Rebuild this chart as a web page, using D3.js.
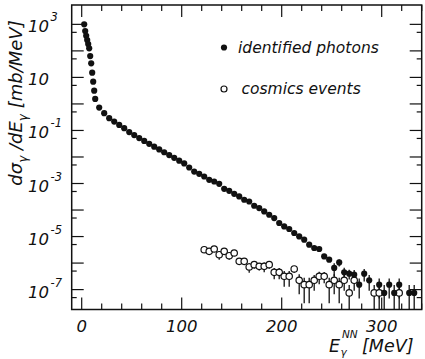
<!DOCTYPE html>
<html><head><meta charset="utf-8">
<script src="https://cdn.jsdelivr.net/npm/d3@7"></script>
<style>
html,body{margin:0;padding:0;background:#fff;}
text{font-family:"DejaVu Sans",sans-serif;font-style:oblique;fill:#111;}
</style></head>
<body><svg id="c" width="425" height="359"></svg>
<script>
// ---- data ----
const photonE = [2.5,3.5,4.5,5.5,6.5,7.5,8.5,9.5,10.5,11.5,12.5,13.5,
  17.5,22.5,27.5,32.5,37.5,42.5,
  47.5,52.5,57.5,62.5,67.5,72.5,77.5,82.5,87.5,92.5,97.5,102.5,107.5,
  112.5,117.5,122.5,127.5,132.5,137.5,142.5,147.5,152.5,157.5,162.5,167.5,172.5,177.5,
  182.5,187.5,192.5,197.5,202.5,207.5,212.5,217.5,222.5,227.5,232.5,237.5,242.5,247.5,
  252.5,257.5,262.5,267.5,272.5,277.5,282.5,287.5,
  297.5,302.5,307.5,312.5,317.5,327.5,332.5];
const photonValue = [1000,560,372,256,182,125,64,34,15.1,6.9,3.17,1.55,
  0.726,0.447,0.290,0.216,0.162,0.122,
  0.0869,0.0670,0.0516,0.0402,0.0313,0.0245,0.0192,0.0151,0.0118,0.00929,0.00729,0.00571,0.00401,
  2.83e-3,2.32e-3,1.84e-3,1.38e-3,1.19e-3,9.75e-4,6.32e-4,5.32e-4,4.10e-4,3.25e-4,2.44e-4,2.10e-4,1.45e-4,1.19e-4,
  8.85e-5,6.65e-5,4.99e-5,3.24e-5,2.41e-5,1.93e-5,1.36e-5,1.01e-5,7.62e-6,4.94e-6,3.71e-6,3.40e-6,1.79e-6,1.35e-6,
  6.56e-7,1.06e-6,4.48e-7,4.00e-7,3.66e-7,1.54e-7,4.00e-7,2.24e-7,
  1.54e-7,7.52e-8,1.54e-7,7.52e-8,1.54e-7,7.52e-8,7.52e-8];
// relative statistical error of each photon point
const photonErr = [0,0,0,0,0,0,0,0,0,0,0,0,
  0,0,0,0,0,0,
  0,0,0,0,0,0,0,0,0,0,0,0,0,
  0,0,0,0,0,0,0,0,0,0,0,0,0,0,
  0,0,0,0,0,0,0,0,0,0,0,0,0,0.15,
  0.5,0.3,0.5,0.4,0.5,0.7,0.5,0.6,
  0.7,1,0.7,1,0.7,1,1];
const cosmicE = [122.5,127.5,132.5,137.5,142.5,147.5,152.5,157.5,162.5,167.5,172.5,177.5,182.5,187.5,
  192.5,197.5,202.5,207.5,212.5,217.5,222.5,227.5,232.5,237.5,242.5,247.5,252.5,257.5,262.5,267.5,272.5,
  292.5,297.5,317.5];
const cosmicValue = [3.20e-6,2.77e-6,3.40e-6,2.07e-6,2.77e-6,1.90e-6,2.40e-6,1.16e-6,1.16e-6,7.14e-7,8.73e-7,7.53e-7,7.53e-7,8.73e-7,
  4.48e-7,4.48e-7,3.17e-7,3.17e-7,6.01e-7,2.24e-7,1.54e-7,1.54e-7,2.24e-7,3.17e-7,3.17e-7,1.54e-7,2.24e-7,1.54e-7,2.24e-7,7.52e-8,2.24e-7,
  7.52e-8,7.52e-8,7.52e-8];
const cosmicErr = [0.15,0.15,0.15,0.35,0.15,0.3,0.15,0.25,0.25,0.4,0.3,0.3,0.4,0.3,
  0.45,0.45,0.6,0.6,0.3,0.7,0.8,0.8,0.6,0.5,0.45,0.8,0.7,0.8,0.6,1,0.6,
  1,1,1];
const xTickLabels = [0,100,200,300];
const yTickExponents = [3,1,-1,-3,-5,-7];
const legendLabels = ["identified photons","cosmics events"];

// ---- layout ----
const svg = d3.select("#c");
const L = 71.7, R = 421.7, T = 5, B = 309.5;
const x = d3.scaleLinear().domain([-10, 340]).range([L, R]);
const y = d3.scaleLog().domain([Math.pow(10,-7.75), Math.pow(10,3.73)]).range([B, T]);
const ymin = y.domain()[0], ymax = y.domain()[1];

// frame
svg.append("rect").attr("x",L).attr("y",T).attr("width",R-L).attr("height",B-T)
  .attr("fill","none").attr("stroke","#111").attr("stroke-width",1.5);

// x ticks (inward, bottom and top)
const xMinor = d3.range(0, 341, 20);
const tickG = svg.append("g").attr("stroke","#111").attr("stroke-width",1.2);
xMinor.forEach(v => {
  const len = (v % 100 === 0) ? 12 : 6;
  tickG.append("line").attr("x1",x(v)).attr("x2",x(v)).attr("y1",B).attr("y2",B-len);
  tickG.append("line").attr("x1",x(v)).attr("x2",x(v)).attr("y1",T).attr("y2",T+len);
});
// y ticks: decades long, 5x short
d3.range(-8, 4).forEach(e => {
  const vMaj = Math.pow(10, e), vMin = 5*Math.pow(10, e-1);
  [[vMaj,12],[vMin,5]].forEach(([v,len]) => {
    if (v < ymin || v > ymax) return;
    tickG.append("line").attr("x1",L).attr("x2",L+len).attr("y1",y(v)).attr("y2",y(v));
    tickG.append("line").attr("x1",R).attr("x2",R-len).attr("y1",y(v)).attr("y2",y(v));
  });
});

// x tick labels
svg.append("g").selectAll("text").data(xTickLabels).join("text")
  .attr("x", d => x(d)).attr("y", 331.5).attr("text-anchor","middle")
  .attr("font-size","16.5px").text(d => d);

// y tick labels
const yl = svg.append("g");
yTickExponents.forEach(e => {
  const yy = y(Math.pow(10, e));
  yl.append("text").attr("x",49).attr("y",yy+8).attr("text-anchor","end")
    .attr("font-size","16.5px").text("10");
  if (e !== 1) yl.append("text").attr("x",50.5).attr("y",yy-3)
    .attr("font-size","11.5px").text(e < 0 ? "-" + (-e) : String(e));
});

// axis titles
const yt = svg.append("text").attr("transform","translate(22,103) rotate(-90)")
  .attr("text-anchor","middle").attr("font-size","18px");
yt.append("tspan").text("dσ");
yt.append("tspan").attr("font-size","12px").attr("dy",5).text("γ");
yt.append("tspan").attr("dy",-5).text(" /dE");
yt.append("tspan").attr("font-size","12px").attr("dy",5).text("γ");
yt.append("tspan").attr("dy",-5).text(" [mb/MeV]");

svg.append("text").attr("x",329).attr("y",352).attr("font-size","17.5px").text("E");
svg.append("text").attr("x",340.5).attr("y",356).attr("font-size","10.5px").text("γ");
svg.append("text").attr("x",342).attr("y",338).attr("font-size","10.5px").text("NN");
svg.append("text").attr("x",362).attr("y",352).attr("font-size","17.5px").text("[MeV]");

// data
const photons = photonE.map((e,i) => ({e, v: photonValue[i], r: photonErr[i]}));
const cosmics = cosmicE.map((e,i) => ({e, v: cosmicValue[i], r: cosmicErr[i]}));
function errBars(data){
  svg.append("g").attr("stroke","#111").attr("stroke-width",1.3)
    .selectAll("line").data(data.filter(d => d.r > 0)).join("line")
    .attr("x1", d => x(d.e)).attr("x2", d => x(d.e))
    .attr("y1", d => y(Math.min(d.v*(1+d.r), ymax)))
    .attr("y2", d => y(Math.max(d.v*(1-d.r), ymin)));
}
errBars(photons); errBars(cosmics);
svg.append("g").selectAll("circle").data(cosmics).join("circle")
  .attr("cx", d => x(d.e)).attr("cy", d => y(d.v)).attr("r",3.2)
  .attr("fill","#fff").attr("stroke","#111").attr("stroke-width",1.2);
svg.append("g").selectAll("circle").data(photons).join("circle")
  .attr("cx", d => x(d.e)).attr("cy", d => y(d.v)).attr("r",3.1).attr("fill","#111");

// legend
const lg = svg.append("g");
lg.append("circle").attr("cx",224).attr("cy",47.5).attr("r",3.1).attr("fill","#111");
lg.append("text").attr("x",238).attr("y",53).attr("font-size","15.5px").text(legendLabels[0]);
lg.append("circle").attr("cx",224).attr("cy",89).attr("r",3).attr("fill","#fff").attr("stroke","#111").attr("stroke-width",1.2);
lg.append("text").attr("x",241.5).attr("y",94).attr("font-size","15.5px").text(legendLabels[1]);
</script></body></html>
